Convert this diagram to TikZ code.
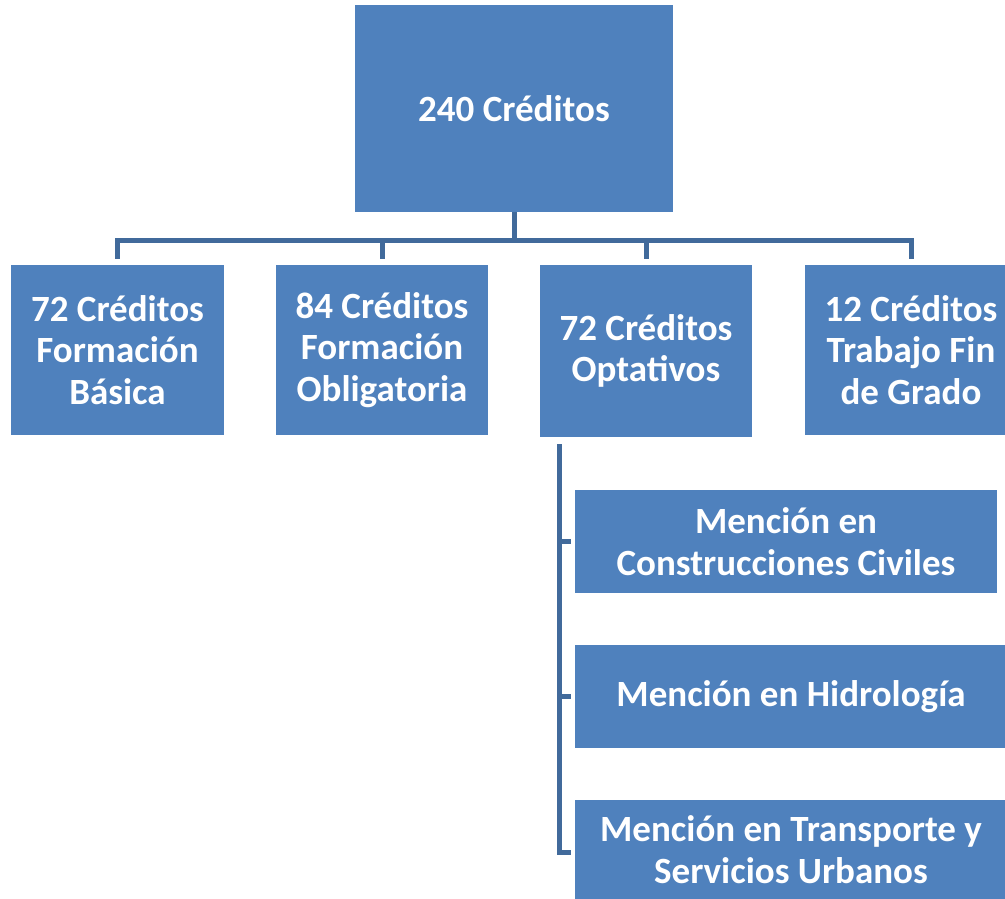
\documentclass[tikz,border=0pt]{standalone}
\usepackage{fontspec}
\setmainfont{Carlito}
\definecolor{boxblue}{RGB}{79,129,189}
\definecolor{connblue}{RGB}{65,106,155}
\begin{document}
\begin{tikzpicture}[x=1pt,y=-1pt,
  box/.style={fill=boxblue,draw=none,text=white,font=\fontsize{37}{41.5}\selectfont\bfseries,align=center,inner sep=0pt},
  conn/.style={draw=connblue,line width=5pt}]
\useasboundingbox (0,0) rectangle (1005,899);
\node[box,minimum width=318pt,minimum height=207pt] (top) at (514,108.5) {240 Créditos};
\node[box,minimum width=213pt,minimum height=170pt] (b1) at (117.5,350) {72 Créditos\\Formación\\Básica};
\node[box,minimum width=212pt,minimum height=170pt] (b2) at (382,350) {84 Créditos\\Formación\\Obligatoria};
\node[box,minimum width=212pt,minimum height=172pt] (b3) at (646,351) {72 Créditos\\Optativos};
\node[box,minimum width=212pt,minimum height=170pt] (b4) at (911,350) {12 Créditos\\Trabajo Fin\\de Grado};
\node[box,minimum width=422pt,minimum height=103pt] (m1) at (786,541.5) {Mención en\\Construcciones Civiles};
\node[box,minimum width=432pt,minimum height=103pt] (m2) at (791,696.5) {Mención en Hidrología};
\node[box,minimum width=432pt,minimum height=99pt] (m3) at (791,849.5) {Mención en Transporte y\\Servicios Urbanos};
\coordinate (hb) at (514,240);
\draw[conn] (top.south) -- (hb);
\draw[conn] ([yshift=6pt]b1.north) |- (hb) -| ([yshift=6pt]b4.north);
\draw[conn] ([yshift=6pt]b2.north) -- (b2.north |- hb);
\draw[conn] ([yshift=6pt]b3.north) -- (b3.north |- hb);
\coordinate (vtop) at (559,444);
\draw[conn] (vtop) |- ([xshift=-4pt]m3.west |- 0,852);
\draw[conn] (559,541.5) -- ([xshift=-4pt]m1.west);
\draw[conn] (559,696.5) -- ([xshift=-4pt]m2.west);
\end{tikzpicture}
\end{document}
